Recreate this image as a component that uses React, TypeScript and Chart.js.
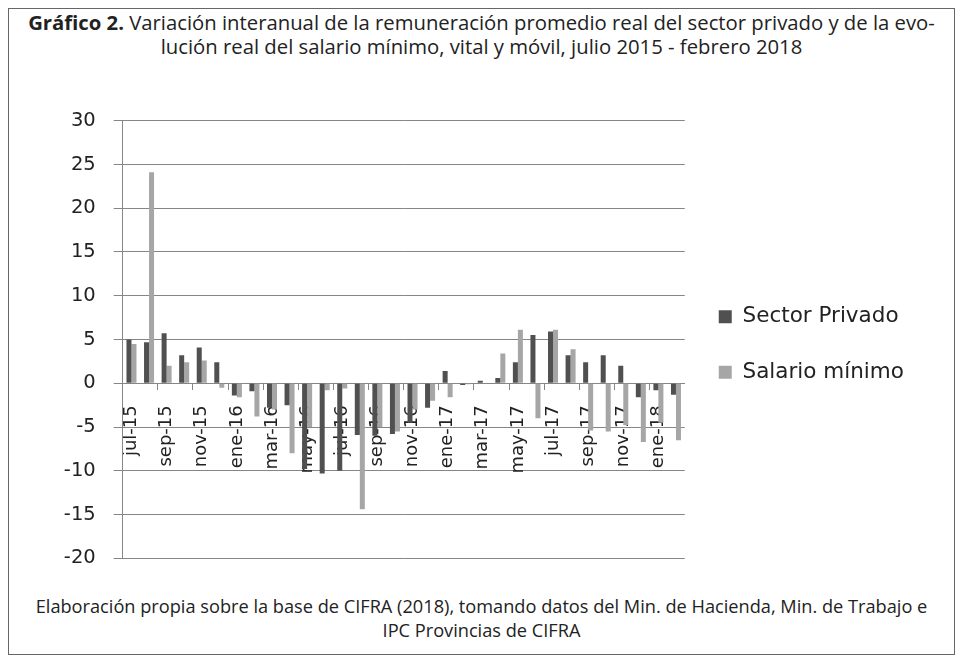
import React, { useEffect, useRef } from 'react';
import { Chart, registerables } from 'chart.js';

Chart.register(...registerables);

const categories = [
  'jul-15', 'ago-15', 'sep-15', 'oct-15', 'nov-15', 'dic-15',
  'ene-16', 'feb-16', 'mar-16', 'abr-16', 'may-16', 'jun-16',
  'jul-16', 'ago-16', 'sep-16', 'oct-16', 'nov-16', 'dic-16',
  'ene-17', 'feb-17', 'mar-17', 'abr-17', 'may-17', 'jun-17',
  'jul-17', 'ago-17', 'sep-17', 'oct-17', 'nov-17', 'dic-17',
  'ene-18', 'feb-18',
];

const sectorPrivado = [
  5.0, 4.7, 5.7, 3.2, 4.1, 2.4,
  -1.4, -0.9, -2.8, -2.5, -9.8, -10.3,
  -10.0, -5.9, -6.0, -5.8, -4.5, -2.8,
  1.4, -0.2, 0.3, 0.6, 2.4, 5.5,
  5.9, 3.2, 2.4, 3.2, 2.0, -1.6,
  -0.8, -1.3,
];

const salarioMinimo = [
  4.5, 24.1, 2.0, 2.4, 2.6, -0.5,
  -1.6, -3.8, -3.0, -8.0, -5.0, -0.8,
  -0.6, -14.4, -5.0, -5.5, -3.0, -2.0,
  -1.6, -0.1, 0.0, 3.4, 6.1, -4.0,
  6.1, 3.9, -5.4, -5.5, -4.8, -6.7,
  -4.5, -6.5,
];

const seriesNames = ['Sector Privado', 'Salario mínimo'];
const yMin = -20;
const yMax = 30;
const yStep = 5;

const CANVAS_W = 889;
const CANVAS_H = 497;
const GRID = '#868686';
const TEXT = '#222222';
const CHART_FONT = "'DejaVu Sans', sans-serif";

export default function App() {
  const ref = useRef<HTMLCanvasElement>(null);

  useEffect(() => {
    if (!ref.current) return;
    const chart = new Chart(ref.current, {
      type: 'bar',
      data: {
        labels: categories,
        datasets: [
          {
            label: seriesNames[0],
            data: sectorPrivado,
            backgroundColor: '#505050',
            borderWidth: 0,
            categoryPercentage: 0.57,
            barPercentage: 1,
          },
          {
            label: seriesNames[1],
            data: salarioMinimo,
            backgroundColor: '#a6a6a6',
            borderWidth: 0,
            categoryPercentage: 0.57,
            barPercentage: 1,
          },
        ],
      },
      options: {
        animation: false,
        responsive: false,
        maintainAspectRatio: false,
        layout: { padding: { top: 10, bottom: 0, left: 0, right: 0 } },
        plugins: {
          tooltip: { enabled: false },
          legend: {
            position: 'right',
            labels: {
              boxWidth: 13,
              boxHeight: 13,
              padding: 34,
              color: TEXT,
              font: { family: CHART_FONT, size: 21.5 },
            },
          },
        },
        scales: {
          x: {
            position: { y: 0 },
            grid: {
              drawOnChartArea: false,
              drawTicks: true,
              tickLength: 6,
              color: (ctx: any) => (ctx.index % 2 === 0 ? GRID : 'rgba(0,0,0,0)'),
            },
            border: { display: true, color: GRID },
            ticks: {
              autoSkip: false,
              maxRotation: 90,
              minRotation: 90,
              padding: 16,
              color: TEXT,
              font: { family: CHART_FONT, size: 18 },
              callback: (_v: any, i: number) => (i % 2 === 0 ? categories[i] : ''),
            },
          },
          y: {
            min: yMin,
            max: yMax,
            ticks: {
              stepSize: yStep,
              padding: 18,
              color: TEXT,
              font: { family: CHART_FONT, size: 19.5 },
            },
            grid: { color: GRID, tickLength: 9 },
            border: { display: true, color: GRID },
            afterFit: (s: any) => {
              s.width = 104.7;
            },
          },
        },
      },
    } as any);
    return () => chart.destroy();
  }, []);

  return (
    <div
      style={{
        position: 'relative',
        width: 945,
        height: 645,
        border: '1px solid #666',
        fontFamily: "'Open Sans', sans-serif",
        color: TEXT,
      }}
    >
      <div
        style={{
          position: 'absolute',
          top: 1,
          left: 0,
          width: 945,
          textAlign: 'center',
          fontSize: 20.3,
          lineHeight: '24px',
          whiteSpace: 'nowrap',
        }}
      >
        <div>
          <b>Gráfico 2.</b> Variación interanual de la remuneración promedio real del sector privado y de la evo-
        </div>
        <div>lución real del salario mínimo, vital y móvil, julio 2015 - febrero 2018</div>
      </div>
      <canvas
        ref={ref}
        width={CANVAS_W}
        height={CANVAS_H}
        style={{ position: 'absolute', left: 9, top: 82, width: CANVAS_W, height: CANVAS_H }}
      />
      <div
        style={{
          position: 'absolute',
          top: 585,
          left: 0,
          width: 945,
          textAlign: 'center',
          fontSize: 18.2,
          lineHeight: '24px',
          whiteSpace: 'nowrap',
        }}
      >
        <div>
          Elaboración propia sobre la base de CIFRA (2018), tomando datos del Min. de Hacienda, Min. de Trabajo e
        </div>
        <div>IPC Provincias de CIFRA</div>
      </div>
    </div>
  );
}
